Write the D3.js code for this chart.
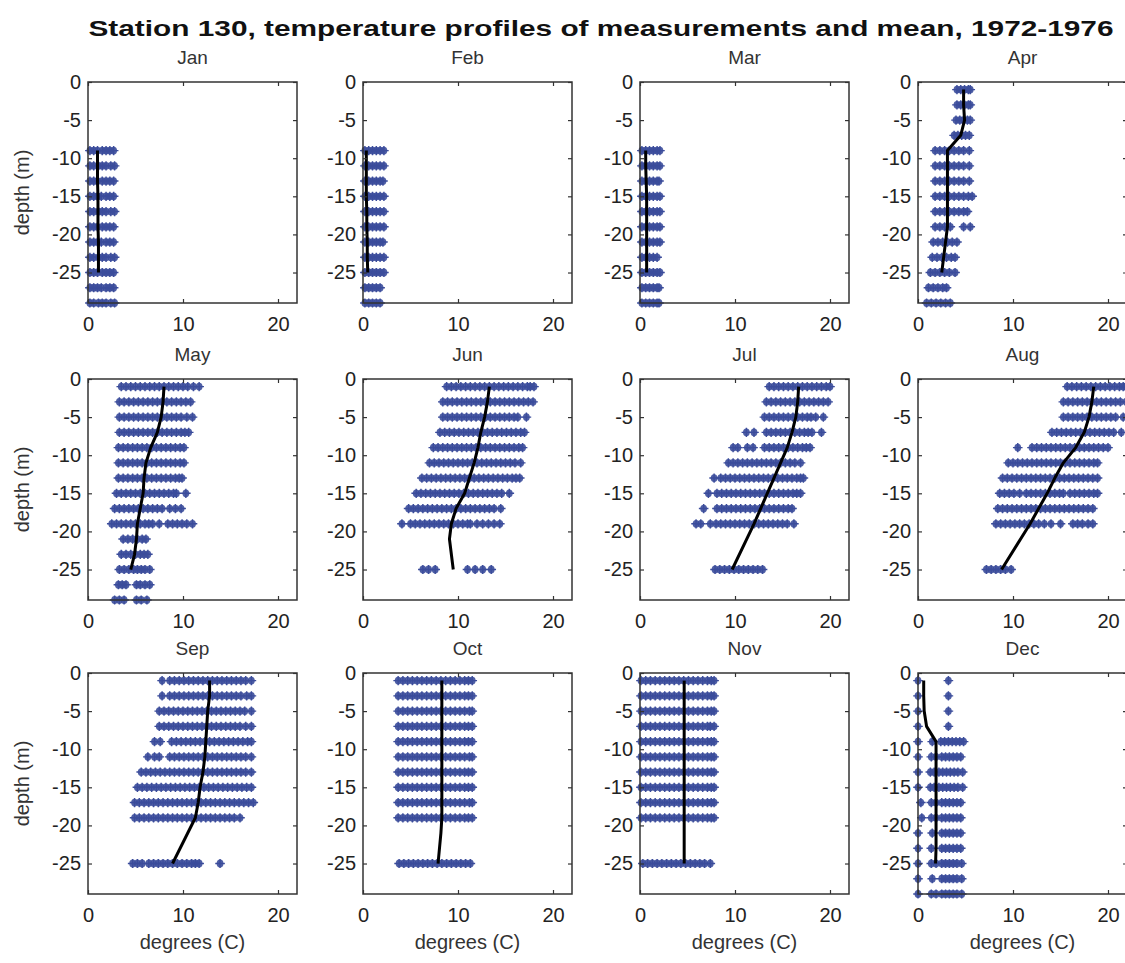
<!DOCTYPE html>
<html>
<head>
<meta charset="utf-8">
<script src="https://cdn.jsdelivr.net/npm/d3@7"></script>
<style>
  body { margin: 0; background: #fff; }
  text { font-family: "Liberation Sans", Arial, sans-serif; }
</style>
</head>
<body>
<svg width="1125" height="963"></svg>
<script>
const months = ["Jan", "Feb", "Mar", "Apr", "May", "Jun", "Jul", "Aug", "Sep", "Oct", "Nov", "Dec"];
const xTicks = [0, 10, 20];
const yTicks = [0, -5, -10, -15, -20, -25];

// measurements: [depth, "temperatures at that depth"]
const janObs = [
  [-9, "0.2 0.6 1.0 1.5 1.9 2.3 2.7"], [-11, "0.2 0.6 1.1 1.5 1.9 2.4 2.8"],
  [-13, "0.2 0.6 1.0 1.5 1.9 2.3 2.7"], [-15, "0.2 0.6 1.0 1.4 1.9 2.3 2.7"],
  [-17, "0.2 0.6 1.1 1.5 1.9 2.4 2.8"], [-19, "0.2 0.6 1.0 1.5 1.9 2.3 2.7"],
  [-21, "0.2 0.6 1.0 1.4 1.9 2.3 2.7"], [-23, "0.2 0.6 1.1 1.5 1.9 2.4 2.8"],
  [-25, "0.2 0.6 1.0 1.5 1.9 2.3 2.7"], [-27, "0.2 0.6 1.0 1.4 1.9 2.3 2.7"],
  [-29, "0.2 0.6 1.1 1.5 1.9 2.4 2.8"]
];
const febObs = [
  [-9, "0.2 0.6 1.0 1.4 1.8 2.2"], [-11, "0.2 0.6 1.0 1.4 1.8 2.2"],
  [-13, "0.2 0.6 1.0 1.4 1.8 2.1"], [-15, "0.2 0.6 1.0 1.4 1.8 2.2"],
  [-17, "0.2 0.6 1.0 1.4 1.8 2.2"], [-19, "0.2 0.6 1.0 1.4 1.8 2.2"],
  [-21, "0.2 0.6 1.0 1.4 1.8 2.1"], [-23, "0.2 0.6 1.0 1.4 1.8 2.2"],
  [-25, "0.2 0.6 1.0 1.4 1.8 2.2"], [-27, "0.2 0.6 1.0 1.4 1.8"],
  [-29, "0.2 0.6 1.0 1.4 1.8"]
];
const marObs = [
  [-9, "0.2 0.6 1.0 1.4 1.8 2.1"], [-11, "0.2 0.6 1.0 1.4 1.8 2.1"],
  [-13, "0.2 0.6 1.0 1.4 1.8 2.0"], [-15, "0.2 0.6 1.0 1.4 1.8 2.1"],
  [-17, "0.2 0.6 1.0 1.4 1.8 2.1"], [-19, "0.2 0.6 1.0 1.4 1.8 2.1"],
  [-21, "0.2 0.6 1.0 1.4 1.8 2.1"], [-23, "0.2 0.6 1.0 1.4 1.8"],
  [-25, "0.2 0.6 1.0 1.4 1.8 2.1"], [-27, "0.2 0.6 1.0 1.4 1.8 2.0"],
  [-29, "0.2 0.6 1.0 1.4 1.8 2.0"]
];
const aprObs = [
  [-1, "4.1 4.5 4.9 5.3 5.5"], [-3, "4.1 4.5 4.9 5.3 5.5"],
  [-5, "4.0 4.4 4.8 5.2 5.5"], [-7, "3.8 4.2 4.6 5.0 5.4"],
  [-9, "1.8 2.3 2.8 3.3 3.8 4.3 4.8 5.4"], [-11, "1.8 2.3 2.8 3.3 3.8 4.3 4.8 5.4"],
  [-13, "1.8 2.3 2.8 3.3 3.8 4.3 4.8 5.4"], [-15, "1.8 2.3 2.8 3.3 3.8 4.3 4.8 5.3 5.7"],
  [-17, "1.8 2.3 2.8 3.3 3.8 4.3 4.8 5.2"], [-19, "1.8 2.3 2.8 3.4 4.8 5.5"],
  [-21, "1.6 2.1 2.6 3.1 3.6 4.1"], [-23, "1.5 2.0 2.5 3.0 3.5 3.9"],
  [-25, "1.3 1.8 2.3 2.8 3.3 3.9"], [-27, "1.1 1.6 2.1 2.6 3.0"],
  [-29, "0.9 1.4 1.9 2.4 2.9 3.4"]
];
const mayObs = [
  [-1, "3.5 4.0 4.5 5.0 5.5 6.0 6.5 7.0 7.5 8.0 8.5 9.0 9.5 10.0 10.5 11.1 11.7"],
  [-3, "3.3 3.8 4.3 4.8 5.3 5.8 6.3 6.8 7.3 7.8 8.3 8.8 9.3 9.8 10.3 10.8"],
  [-5, "3.3 3.8 4.3 4.8 5.3 5.8 6.3 6.8 7.3 7.8 8.3 8.8 9.3 9.8 10.4 11.0"],
  [-7, "3.3 3.8 4.3 4.8 5.3 5.8 6.3 6.8 7.3 7.8 8.3 8.8 9.3 9.8 10.2 10.6"],
  [-9, "3.2 3.7 4.2 4.7 5.2 5.7 6.2 6.7 7.2 7.7 8.2 8.7 9.2 9.7 10.1"],
  [-11, "3.2 3.7 4.2 4.7 5.2 5.7 6.2 6.7 7.2 7.7 8.2 8.7 9.2 9.7 10.1"],
  [-13, "3.2 3.7 4.2 4.7 5.2 5.7 6.2 6.7 7.2 7.7 8.2 8.7 9.2 9.6 9.9"],
  [-15, "3.0 3.5 4.0 4.5 5.0 5.5 6.0 6.5 7.0 7.5 8.0 8.5 9.0 9.3 10.3"],
  [-17, "2.8 3.3 3.8 4.3 4.8 5.3 5.8 6.3 6.8 7.3 7.8 8.6 9.2 9.8"],
  [-19, "2.5 3.0 3.5 4.0 4.5 5.0 5.5 6.0 6.4 6.8 7.5 8.4 8.9 9.4 9.9 10.4 11.0"],
  [-21, "3.7 4.2 4.7 5.2 5.7 6.1"],
  [-23, "3.5 4.0 4.5 5.0 5.5 5.9 6.3"],
  [-25, "3.3 3.8 4.3 4.8 5.2 5.6 6.0 6.5"],
  [-27, "3.2 3.6 4.0 5.1 5.5 6.0 6.5"],
  [-29, "2.8 3.3 3.8 5.1 5.6 6.2"]
];
const junObs = [
  [-1, "8.8 9.3 9.8 10.3 10.8 11.3 11.8 12.3 12.8 13.3 13.8 14.3 14.8 15.3 15.8 16.3 16.8 17.3 17.6 18.0"],
  [-3, "8.4 8.9 9.4 9.9 10.4 10.9 11.4 11.9 12.4 12.9 13.4 13.9 14.4 14.9 15.4 15.9 16.4 16.9 17.4 17.9"],
  [-5, "8.4 8.9 9.4 9.9 10.4 10.9 11.4 11.9 12.4 12.9 13.4 13.9 14.4 14.9 15.4 15.9 16.3 17.2"],
  [-7, "8.1 8.6 9.1 9.6 10.1 10.6 11.1 11.6 12.1 12.6 13.1 13.6 14.1 14.6 15.1 15.6 16.1 16.6 17.0"],
  [-9, "7.4 7.9 8.4 8.9 9.4 9.9 10.4 10.9 11.4 11.9 12.4 12.9 13.4 13.9 14.4 14.9 15.4 15.9 16.4 16.8"],
  [-11, "7.0 7.5 8.0 8.5 9.0 9.5 10.0 10.5 11.0 11.5 12.0 12.5 13.0 13.5 14.0 14.5 15.0 15.5 16.0 16.6"],
  [-13, "6.2 6.7 7.2 7.7 8.2 8.7 9.2 9.7 10.2 10.7 11.2 11.7 12.2 12.7 13.2 13.7 14.2 14.7 15.2 15.7 16.1 16.5"],
  [-15, "5.6 6.1 6.6 7.1 7.6 8.1 8.6 9.1 9.6 10.1 10.6 11.1 11.6 12.1 12.6 13.1 13.6 14.1 14.6 15.4"],
  [-17, "4.8 5.3 5.8 6.3 6.8 7.3 7.8 8.3 8.8 9.3 9.8 10.3 10.8 11.3 11.8 12.3 12.8 13.3 13.8 14.5"],
  [-19, "4.1 5.0 5.5 6.0 6.5 7.0 7.5 8.0 8.5 9.0 9.5 10.0 10.5 11.0 11.3 12.0 12.6 13.2 13.8 14.4"],
  [-25, "6.3 6.9 7.6 11.0 11.8 12.6 13.5"]
];
const julObs = [
  [-1, "13.6 14.1 14.6 15.1 15.6 16.1 16.6 17.1 17.6 18.1 18.6 19.1 19.6 20.0"],
  [-3, "13.3 13.8 14.3 14.8 15.3 15.8 16.3 16.8 17.3 17.8 18.3 18.8 19.3 19.8"],
  [-5, "13.1 13.6 14.1 14.6 15.1 15.6 16.1 16.6 17.1 17.6 18.0 18.5 19.3"],
  [-7, "11.2 12.0 13.3 13.8 14.3 14.8 15.3 15.8 16.3 16.8 17.3 17.7 18.1 19.1"],
  [-9, "9.8 10.3 11.3 11.9 13.1 13.6 14.1 14.6 15.1 15.6 16.1 16.6 17.1 17.5 17.9"],
  [-11, "9.3 9.8 10.3 10.8 11.3 11.8 12.3 12.8 13.3 13.8 14.3 14.8 15.3 15.8 16.3 16.9"],
  [-13, "7.8 8.5 9.0 9.5 10.0 10.5 11.0 11.5 12.0 12.5 13.0 13.5 14.0 14.5 15.0 15.5 16.0 16.5 16.9 17.2"],
  [-15, "7.2 8.1 8.6 9.1 9.6 10.1 10.6 11.1 11.6 12.1 12.6 13.1 13.6 14.1 14.6 15.1 15.6 16.1 16.5 16.9"],
  [-17, "6.7 8.1 8.6 9.1 9.6 10.1 10.6 11.1 11.6 12.1 12.6 13.1 13.6 14.1 14.6 15.1 15.6 16.0"],
  [-19, "5.9 6.4 7.4 8.0 8.5 9.0 9.5 10.0 10.5 11.0 11.5 12.0 12.5 13.0 13.5 14.0 14.5 15.0 15.5 16.2"],
  [-25, "7.9 8.4 8.9 9.4 9.9 10.4 10.9 11.4 11.9 12.4 12.9"]
];
const augObs = [
  [-1, "15.7 16.2 16.7 17.2 17.7 18.2 18.7 19.2 19.7 20.2 20.7 21.2 21.6 21.9"],
  [-3, "15.3 15.8 16.3 16.8 17.3 17.8 18.3 18.8 19.3 19.8 20.3 20.8 21.3 21.9"],
  [-5, "15.3 15.8 16.3 16.8 17.3 17.8 18.3 18.8 19.3 19.8 20.3 20.8 21.6"],
  [-7, "14.1 14.6 15.1 15.6 16.1 16.6 17.1 17.6 18.1 18.6 19.1 19.6 20.1 20.6 21.4"],
  [-9, "10.5 12.0 12.5 13.0 13.5 14.0 14.5 15.0 15.5 16.0 16.5 17.0 17.5 18.0 18.5 19.0 19.5 20.0"],
  [-11, "9.5 10.0 10.5 11.0 11.5 12.0 12.5 13.0 13.5 14.0 14.5 15.0 15.5 16.0 16.5 17.0 17.5 18.0 18.5 18.9"],
  [-13, "8.9 9.4 9.9 10.4 10.9 11.4 11.9 12.4 12.9 13.4 13.9 14.4 14.9 15.4 15.9 16.4 16.9 17.4 17.9 18.4 18.9"],
  [-15, "8.6 9.1 9.6 10.1 10.7 11.4 11.9 12.4 12.9 13.4 13.9 14.4 14.9 15.3 16.0 16.5 17.0 17.5 18.0 18.5 18.9"],
  [-17, "8.4 8.9 9.4 9.9 10.4 10.9 11.4 11.9 12.4 12.9 13.4 13.9 14.4 14.9 15.4 15.9 16.4 16.9 17.4 17.9 18.4"],
  [-19, "8.2 8.7 9.2 9.7 10.2 10.7 11.2 11.7 12.2 12.7 13.3 14.0 15.0 16.3 16.8 17.3 17.9 18.4"],
  [-25, "7.2 7.7 8.2 8.7 9.2 9.8"]
];
const sepObs = [
  [-1, "7.8 8.6 9.1 9.6 10.1 10.6 11.1 11.6 12.1 12.6 13.1 13.6 14.1 14.6 15.1 15.6 16.1 16.6 17.2"],
  [-3, "7.8 8.6 9.1 9.6 10.1 10.6 11.1 11.6 12.1 12.6 13.1 13.6 14.1 14.6 15.1 15.6 16.1 16.7 17.2"],
  [-5, "7.5 8.0 8.5 9.0 9.5 10.0 10.5 11.0 11.5 12.0 12.5 13.0 13.5 14.0 14.5 15.0 15.5 16.0 16.5 17.2"],
  [-7, "7.5 8.0 8.5 9.0 9.5 10.0 10.5 11.0 11.5 12.0 12.5 13.0 13.5 14.0 14.5 15.0 15.5 16.0 16.6 17.2"],
  [-9, "7.0 7.6 8.8 9.3 9.8 10.3 10.8 11.3 11.8 12.3 12.8 13.3 13.8 14.3 14.8 15.3 15.8 16.3 16.8 17.2"],
  [-11, "6.3 7.0 7.5 8.6 9.1 9.6 10.1 10.6 11.1 11.6 12.1 12.6 13.1 13.6 14.1 14.6 15.1 15.6 16.1 16.6 17.2"],
  [-13, "5.6 6.1 6.6 7.1 7.6 8.1 8.6 9.1 9.6 10.1 10.6 11.1 11.6 12.1 12.6 13.1 13.6 14.1 14.6 15.1 15.6 16.1 16.6 17.2"],
  [-15, "5.2 5.7 6.2 6.7 7.2 7.7 8.2 8.7 9.2 9.7 10.2 10.7 11.2 11.7 12.2 12.7 13.2 13.7 14.2 14.7 15.2 15.7 16.2 16.7 17.2"],
  [-17, "4.9 5.4 5.9 6.4 6.9 7.4 7.9 8.4 8.9 9.4 9.9 10.4 10.9 11.4 11.9 12.4 12.9 13.4 13.9 14.4 14.9 15.4 15.9 16.4 16.9 17.4"],
  [-19, "4.9 5.4 5.9 6.4 6.9 7.4 7.9 8.4 8.9 9.4 9.9 10.4 10.9 11.4 11.9 12.4 12.9 13.4 13.9 14.4 14.9 15.4 16.0"],
  [-25, "4.7 5.2 5.7 6.4 6.9 7.4 7.9 8.4 8.9 9.4 9.9 10.4 10.9 11.3 11.7 13.9"]
];
const octObs = [
  [-1, "3.7 4.2 4.7 5.2 5.7 6.2 6.7 7.2 7.7 8.2 8.7 9.2 9.7 10.2 10.7 11.1 11.5"],
  [-3, "3.7 4.2 4.7 5.2 5.7 6.2 6.7 7.2 7.7 8.2 8.7 9.2 9.7 10.2 10.7 11.1 11.5"],
  [-5, "3.7 4.2 4.7 5.2 5.7 6.2 6.7 7.2 7.7 8.2 8.7 9.2 9.7 10.2 10.7 11.2 11.5"],
  [-7, "3.7 4.2 4.7 5.2 5.7 6.2 6.7 7.2 7.7 8.2 8.7 9.2 9.7 10.2 10.7 11.1 11.5"],
  [-9, "3.7 4.2 4.7 5.2 5.7 6.2 6.7 7.2 7.7 8.2 8.7 9.2 9.7 10.2 10.7 11.1 11.5"],
  [-11, "3.7 4.2 4.7 5.2 5.7 6.2 6.7 7.2 7.7 8.2 8.7 9.2 9.7 10.2 10.7 11.2 11.5"],
  [-13, "3.7 4.2 4.7 5.2 5.7 6.2 6.7 7.2 7.7 8.2 8.7 9.2 9.7 10.2 10.7 11.1 11.5"],
  [-15, "3.7 4.2 4.7 5.2 5.7 6.2 6.7 7.2 7.7 8.2 8.7 9.2 9.7 10.2 10.7 11.1 11.5"],
  [-17, "3.7 4.2 4.7 5.2 5.7 6.2 6.7 7.2 7.7 8.2 8.7 9.2 9.7 10.2 10.7 11.2 11.5"],
  [-19, "3.7 4.2 4.7 5.2 5.7 6.2 6.7 7.2 7.7 8.2 8.7 9.2 9.7 10.2 10.7 11.1 11.5"],
  [-25, "3.8 4.3 4.8 5.3 5.8 6.3 6.8 7.3 7.8 8.3 8.8 9.3 9.8 10.3 10.8 11.3"]
];
const novObs = [
  [-1, "0.1 0.6 1.1 1.6 2.1 2.6 3.1 3.6 4.1 4.6 5.1 5.6 6.1 6.6 7.1 7.5 7.8"],
  [-3, "0.1 0.6 1.1 1.6 2.1 2.6 3.1 3.6 4.1 4.6 5.1 5.6 6.1 6.6 7.1 7.5 7.8"],
  [-5, "0.1 0.6 1.1 1.6 2.1 2.6 3.1 3.6 4.1 4.6 5.1 5.6 6.1 6.6 7.1 7.5 7.8"],
  [-7, "0.1 0.6 1.1 1.6 2.1 2.6 3.1 3.6 4.1 4.6 5.1 5.6 6.1 6.6 7.1 7.4 7.8"],
  [-9, "0.1 0.6 1.1 1.6 2.1 2.6 3.1 3.6 4.1 4.6 5.1 5.6 6.1 6.6 7.1 7.5 7.8"],
  [-11, "0.1 0.6 1.1 1.6 2.1 2.6 3.1 3.6 4.1 4.6 5.1 5.6 6.1 6.6 7.1 7.5 7.8"],
  [-13, "0.1 0.6 1.1 1.6 2.1 2.6 3.1 3.6 4.1 4.6 5.1 5.6 6.1 6.6 7.1 7.5 7.8"],
  [-15, "0.1 0.6 1.1 1.6 2.1 2.6 3.1 3.6 4.1 4.6 5.1 5.6 6.1 6.6 7.1 7.5 7.8"],
  [-17, "0.1 0.6 1.1 1.6 2.1 2.6 3.1 3.6 4.1 4.6 5.1 5.6 6.1 6.6 7.1 7.5 7.8"],
  [-19, "0.1 0.6 1.1 1.6 2.1 2.6 3.1 3.6 4.1 4.6 5.1 5.6 6.1 6.6 7.1 7.5 7.8"],
  [-25, "0.3 0.8 1.3 1.8 2.3 2.8 3.3 3.8 4.3 4.8 5.3 5.8 6.3 6.8 7.4"]
];
const decObs = [
  [-1, "0.0 3.2"], [-3, "0.0 3.2"], [-5, "0.0 3.2"], [-7, "0.0 3.2"],
  [-9, "0.0 1.5 2.4 2.8 3.2 3.6 4.0 4.4 4.8"],
  [-11, "0.0 1.4 1.9 2.5 2.9 3.3 3.7 4.1 4.5"],
  [-13, "0.0 1.3 1.7 2.2 2.6 3.0 3.4 3.8 4.2 4.7"],
  [-15, "0.0 1.3 1.7 2.2 2.6 3.0 3.4 3.8 4.2 4.7"],
  [-17, "0.3 1.4 1.9 2.5 2.9 3.3 3.7 4.1 4.5"],
  [-19, "0.4 1.4 1.9 2.5 2.9 3.3 3.7 4.1 4.5"],
  [-21, "0.0 1.5 2.5 2.9 3.3 3.7 4.1 4.5"],
  [-23, "0.0 1.4 2.5 2.9 3.3 3.7 4.1 4.5"],
  [-25, "0.0 1.4 1.9 2.5 2.9 3.3 3.7 4.1 4.6"],
  [-27, "0.0 1.5 2.5 2.9 3.3 3.7 4.1 4.6"],
  [-29, "0.0 1.4 1.9 2.5 2.9 3.3 3.7 4.1 4.6"]
];

// monthly mean profiles: [depth, temperature]
const janMean = [[-9, 1.0], [-11, 1.0], [-13, 1.0], [-15, 1.05], [-17, 1.05], [-19, 1.05], [-21, 1.1], [-23, 1.1], [-25, 1.1]];
const febMean = [[-9, 0.35], [-11, 0.35], [-13, 0.35], [-15, 0.35], [-17, 0.4], [-19, 0.4], [-21, 0.45], [-23, 0.45], [-25, 0.5]];
const marMean = [[-9, 0.6], [-11, 0.6], [-13, 0.65], [-15, 0.7], [-17, 0.7], [-19, 0.7], [-21, 0.7], [-23, 0.7], [-25, 0.7]];
const aprMean = [[-1, 4.8], [-3, 4.8], [-5, 4.9], [-7, 4.5], [-9, 3.1], [-11, 3.1], [-13, 3.1], [-15, 3.1], [-17, 3.1], [-19, 3.1], [-21, 2.9], [-23, 2.7], [-25, 2.5]];
const mayMean = [[-1, 8.0], [-3, 7.9], [-5, 7.7], [-7, 7.3], [-9, 6.6], [-11, 6.1], [-13, 5.9], [-15, 5.8], [-17, 5.5], [-19, 5.2], [-21, 5.1], [-23, 4.9], [-25, 4.5]];
const junMean = [[-1, 13.3], [-3, 13.1], [-5, 12.8], [-7, 12.4], [-9, 12.1], [-11, 11.7], [-13, 11.2], [-15, 10.7], [-17, 9.8], [-19, 9.3], [-21, 9.1], [-25, 9.5]];
const julMean = [[-1, 16.7], [-3, 16.6], [-5, 16.4], [-7, 16.0], [-9, 15.5], [-11, 14.8], [-13, 14.1], [-15, 13.4], [-17, 12.7], [-19, 12.0], [-25, 9.7]];
const augMean = [[-1, 18.5], [-3, 18.3], [-5, 18.0], [-7, 17.5], [-9, 16.6], [-11, 15.3], [-13, 14.4], [-15, 13.6], [-17, 12.7], [-19, 11.8], [-25, 8.8]];
const sepMean = [[-1, 12.8], [-3, 12.8], [-5, 12.6], [-7, 12.5], [-9, 12.4], [-11, 12.3], [-13, 12.1], [-15, 11.8], [-17, 11.6], [-19, 11.3], [-25, 8.9]];
const octMean = [[-1, 8.3], [-3, 8.3], [-5, 8.3], [-7, 8.3], [-9, 8.3], [-11, 8.3], [-13, 8.3], [-15, 8.3], [-17, 8.3], [-19, 8.3], [-21, 8.2], [-25, 7.9]];
const novMean = [[-1, 4.65], [-3, 4.65], [-5, 4.65], [-7, 4.65], [-9, 4.65], [-11, 4.65], [-13, 4.65], [-15, 4.65], [-17, 4.65], [-19, 4.65], [-25, 4.65]];
const decMean = [[-1, 0.6], [-3, 0.6], [-5, 0.65], [-7, 0.9], [-9, 1.9], [-11, 1.9], [-13, 1.9], [-15, 1.9], [-17, 1.9], [-19, 1.9], [-21, 1.9], [-23, 1.9], [-25, 1.85]];

const allObs = [janObs, febObs, marObs, aprObs, mayObs, junObs, julObs, augObs, sepObs, octObs, novObs, decObs];
const allMean = [janMean, febMean, marMean, aprMean, mayMean, junMean, julMean, augMean, sepMean, octMean, novMean, decMean];

const svg = d3.select("svg");
const colLeft = [88, 363, 640, 918];
const rowTop = [82, 379, 673];
const pw = 209, ph = 221;
const dotColor = "#3b4c9b";

const x = d3.scaleLinear().domain([0, 22]).range([0, pw]);
const y = d3.scaleLinear().domain([-29, 0]).range([ph, 0]);

svg.append("text")
  .attr("x", 601).attr("y", 36)
  .attr("text-anchor", "middle")
  .attr("font-size", 22).attr("font-weight", "bold")
  .attr("fill", "#111")
  .attr("textLength", 1025).attr("lengthAdjust", "spacingAndGlyphs")
  .text("Station 130, temperature profiles of measurements and mean, 1972-1976");

months.forEach((m, i) => {
  const col = i % 4, row = Math.floor(i / 4);
  const g = svg.append("g").attr("transform", `translate(${colLeft[col]},${rowTop[row]})`);

  // measurement markers
  const pts = [];
  allObs[i].forEach(([d, s]) => s.split(" ").forEach(t => pts.push({ d: d, t: +t })));
  const mk = g.append("g").selectAll("g")
    .data(pts)
    .join("g")
    .attr("transform", p => `translate(${x(p.t)},${y(p.d)})`);
  mk.append("ellipse").attr("rx", 3.4).attr("ry", 3.9)
    .attr("fill", dotColor).attr("fill-opacity", 0.9);
  mk.append("path").attr("d", "M-4.8,0H4.8M0,-4.6V4.6")
    .attr("stroke", dotColor).attr("stroke-width", 1.4);

  // mean profile
  g.append("path")
    .datum(allMean[i])
    .attr("fill", "none")
    .attr("stroke", "#000")
    .attr("stroke-width", 3)
    .attr("stroke-linejoin", "round")
    .attr("d", d3.line().x(p => x(p[1])).y(p => y(p[0])));

  // axes
  const fmt = d => String(d);
  const styleAxis = sel => {
    sel.select(".domain").remove();
    sel.selectAll(".tick line").attr("stroke", "#333").attr("stroke-width", 1.2);
    sel.selectAll(".tick text").attr("fill", "#222").attr("font-size", 20)
      .attr("font-family", "'Liberation Sans', Arial, sans-serif");
  };
  g.append("g").attr("transform", `translate(0,${ph})`)
    .call(d3.axisBottom(x).tickValues(xTicks).tickSizeInner(-4).tickSizeOuter(0).tickPadding(14).tickFormat(fmt))
    .call(styleAxis);
  g.append("g")
    .call(d3.axisTop(x).tickValues(xTicks).tickSizeInner(-4).tickSizeOuter(0).tickFormat(""))
    .call(styleAxis);
  g.append("g")
    .call(d3.axisLeft(y).tickValues(yTicks).tickSizeInner(-4).tickSizeOuter(0).tickPadding(7).tickFormat(fmt))
    .call(styleAxis);
  g.append("g").attr("transform", `translate(${pw},0)`)
    .call(d3.axisRight(y).tickValues(yTicks).tickSizeInner(-4).tickSizeOuter(0).tickFormat(""))
    .call(styleAxis);

  g.append("rect")
    .attr("width", pw).attr("height", ph)
    .attr("fill", "none").attr("stroke", "#333").attr("stroke-width", 1.5);

  g.append("text")
    .attr("x", pw / 2).attr("y", -18)
    .attr("text-anchor", "middle").attr("font-size", 19).attr("fill", "#333")
    .text(m);

  if (col === 0) {
    g.append("text")
      .attr("transform", `translate(${22 - colLeft[0]},${ph / 2}) rotate(-90)`)
      .attr("text-anchor", "middle").attr("dy", "0.35em")
      .attr("font-size", 20).attr("fill", "#333")
      .text("depth (m)");
  }
  if (row === 2) {
    g.append("text")
      .attr("x", pw / 2).attr("y", ph + 55)
      .attr("text-anchor", "middle").attr("font-size", 20).attr("fill", "#333")
      .text("degrees (C)");
  }
});
</script>
</body>
</html>
